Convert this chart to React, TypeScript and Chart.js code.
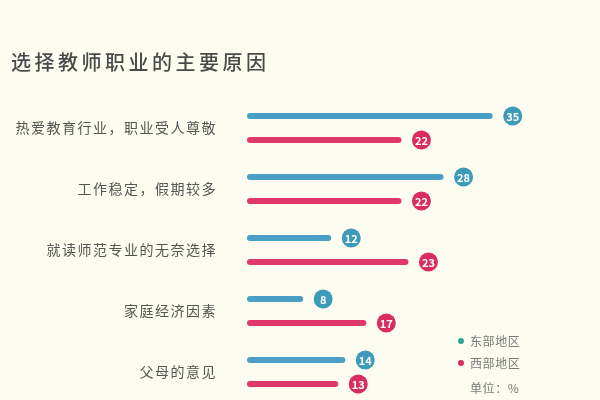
import React, { useEffect, useRef } from "react";
import { Chart, registerables } from "chart.js";

Chart.register(...registerables);

const reasons = [
  "热爱教育行业，职业受人尊敬",
  "工作稳定，假期较多",
  "就读师范专业的无奈选择",
  "家庭经济因素",
  "父母的意见",
];
const eastValues = [35, 28, 12, 8, 14];
const westValues = [22, 22, 23, 17, 13];
const seriesNames = ["东部地区", "西部地区"];

const BLUE = "#4a9fc6";
const BLUE_DOT = "#3d9ab8";
const PINK = "#e0386b";
const PINK_DOT = "#d92d60";
const BG = "#fdfcf0";
const FONT = "'Noto Sans CJK SC', 'Noto Sans', sans-serif";

// little round value badges at the end of each bar
const badgePlugin = {
  id: "badges",
  beforeDraw(chart: any) {
    chart.ctx.letterSpacing = "1.5px";
  },
  afterDatasetsDraw(chart: any) {
    const ctx = chart.ctx;
    ctx.save();
    ctx.letterSpacing = "0px";
    chart.data.datasets.forEach((ds: any, di: number) => {
      const meta = chart.getDatasetMeta(di);
      meta.data.forEach((bar: any, i: number) => {
        const cx = bar.x + 20;
        const cy = bar.y;
        ctx.beginPath();
        ctx.arc(cx, cy, 9.5, 0, Math.PI * 2);
        ctx.fillStyle = di === 0 ? BLUE_DOT : PINK_DOT;
        ctx.fill();
        ctx.fillStyle = "#ffffff";
        ctx.font = `600 11px ${FONT}`;
        ctx.textAlign = "center";
        ctx.textBaseline = "middle";
        ctx.fillText(String(ds.data[i]), cx, cy + 0.5);
      });
    });
    ctx.restore();
  },
};

const App = () => {
  const canvasRef = useRef<HTMLCanvasElement | null>(null);

  useEffect(() => {
    if (!canvasRef.current) return;
    const ctx = canvasRef.current.getContext("2d");
    if (!ctx) return;

    const chart = new Chart(ctx, {
      type: "bar",
      data: {
        labels: reasons,
        datasets: [
          {
            label: seriesNames[0],
            data: eastValues,
            backgroundColor: BLUE,
            borderRadius: 3,
            borderSkipped: false,
          },
          {
            label: seriesNames[1],
            data: westValues,
            backgroundColor: PINK,
            borderRadius: 3,
            borderSkipped: false,
          },
        ],
      },
      options: {
        indexAxis: "y",
        animation: false,
        responsive: true,
        maintainAspectRatio: false,
        categoryPercentage: 0.787,
        barPercentage: 0.25,
        layout: { padding: { top: 97.5, bottom: 7.5, left: 0, right: 2 } },
        plugins: {
          legend: { display: false },
          tooltip: { enabled: false },
        },
        scales: {
          x: { display: false, min: 0, max: 50 },
          y: {
            grid: { display: false, drawTicks: false },
            border: { display: false },
            ticks: {
              padding: 30,
              color: "#555555",
              font: { family: FONT, size: 14 },
            },
            afterFit: (scale: any) => {
              scale.width = 247;
              scale.paddingTop = 0;
              scale.paddingBottom = 0;
            },
          },
        },
      },
      plugins: [badgePlugin],
    });

    return () => {
      chart.destroy();
    };
  }, []);

  const legendText = {
    position: "absolute" as const,
    left: 470,
    fontFamily: FONT,
    fontSize: 12,
    lineHeight: "16px",
    color: "#7a7a7a",
    letterSpacing: 0.6,
  };
  const dot = (color: string, top: number) => ({
    position: "absolute" as const,
    left: 458,
    top,
    width: 6,
    height: 6,
    borderRadius: 3,
    background: color,
  });

  return (
    <div
      style={{
        position: "absolute",
        left: 0,
        top: 0,
        width: 600,
        height: 400,
        overflow: "hidden",
        background: BG,
      }}
    >
      <div style={{ position: "absolute", left: 0, top: 0, width: 600, height: 410 }}>
        <canvas ref={canvasRef} />
      </div>
      <div
        style={{
          position: "absolute",
          left: 11,
          top: 50,
          fontFamily: FONT,
          fontSize: 20,
          lineHeight: "24px",
          fontWeight: 500,
          letterSpacing: 3.5,
          color: "#4a4a4a",
          whiteSpace: "nowrap",
        }}
      >
        选择教师职业的主要原因
      </div>
      <div style={dot("#2fa893", 338)} />
      <div style={{ ...legendText, top: 333 }}>{seriesNames[0]}</div>
      <div style={dot(PINK_DOT, 360)} />
      <div style={{ ...legendText, top: 355 }}>{seriesNames[1]}</div>
      <div style={{ ...legendText, top: 380 }}>单位：%</div>
    </div>
  );
};

export default App;
